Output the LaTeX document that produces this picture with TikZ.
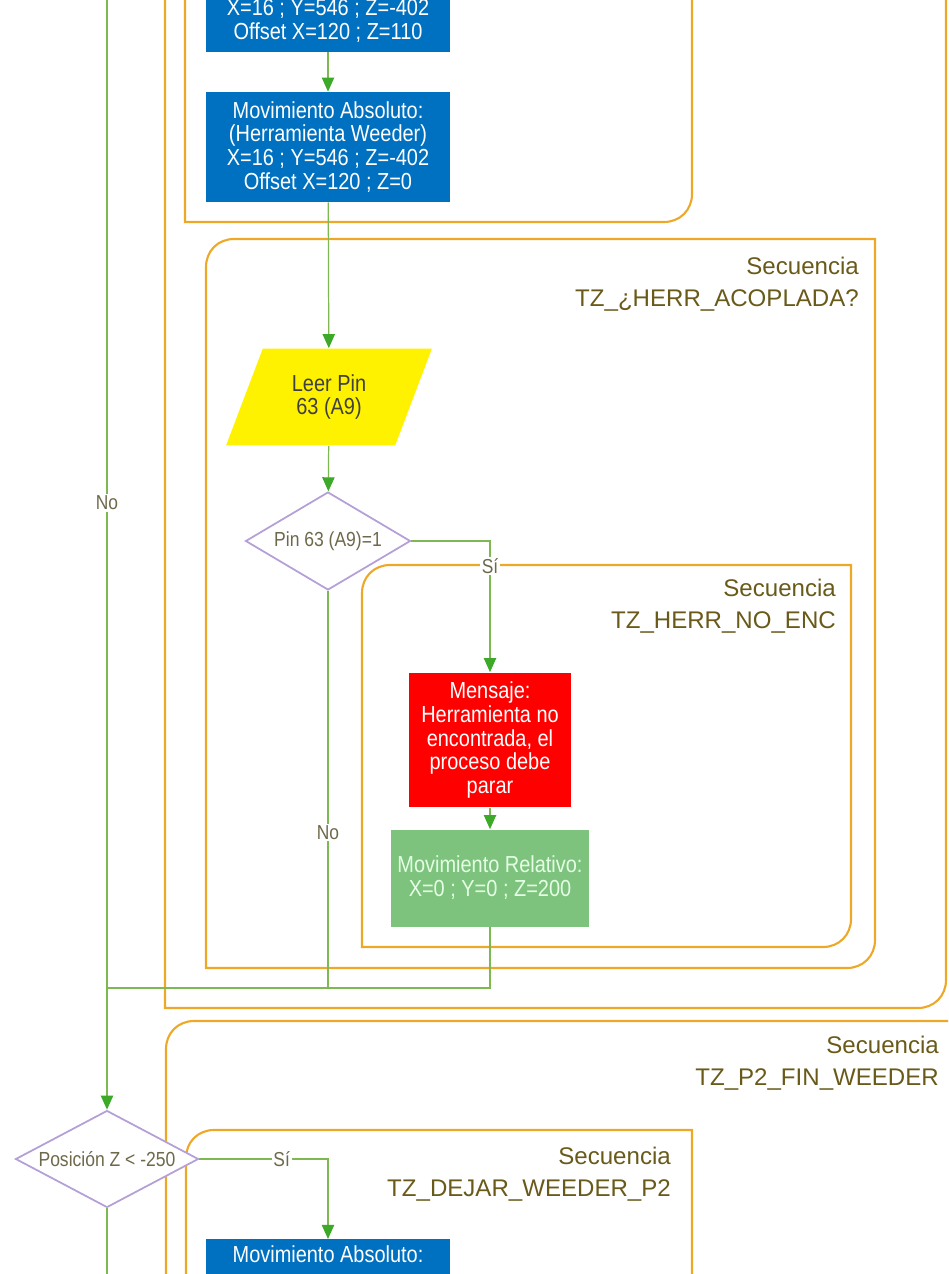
\documentclass[tikz,border=0pt]{standalone}
\usepackage{fontspec}
\setmainfont{Liberation Sans}
\newfontfamily\narrowfont[FakeStretch=0.86]{Liberation Sans}
\usetikzlibrary{shapes.geometric,arrows.meta}

\definecolor{seqorange}{RGB}{238,168,40}
\definecolor{seqtext}{RGB}{105,90,25}
\definecolor{flowgreen}{RGB}{125,185,80}
\definecolor{tipgreen}{RGB}{60,170,40}
\definecolor{actblue}{RGB}{0,112,192}
\definecolor{msgred}{RGB}{255,0,0}
\definecolor{relgreen}{RGB}{125,195,125}
\definecolor{decpurple}{RGB}{180,160,215}
\definecolor{lbltext}{RGB}{110,105,75}

\begin{document}
\begin{tikzpicture}[
    x=0.02cm, y=-0.02cm,
    font=\narrowfont\fontsize{13.2}{13.6}\selectfont,
    act/.style={fill=actblue, text=white, align=center,
                minimum width=4.9cm, minimum height=2.2cm, inner sep=2pt},
    msg/.style={fill=msgred, text=white, align=center,
                minimum width=3.24cm, minimum height=2.7cm, inner sep=2pt},
    rel/.style={fill=relgreen, text=white!90!green, align=center,
                minimum width=3.96cm, minimum height=1.94cm, inner sep=2pt},
    io/.style={trapezium, trapezium left angle=65.6, trapezium right angle=114.4,
               trapezium stretches=true, fill=yellow, text=black!75, align=center,
               minimum width=4.12cm, minimum height=1.94cm, inner sep=0pt},
    dec/.style={diamond, aspect=1.7, draw=decpurple, line width=1pt, fill=white,
                text=lbltext, inner sep=0pt,
                font=\narrowfont\fontsize{11.6}{12}\selectfont},
    seq/.style={draw=seqorange, line width=1.2pt},
    seqlabel/.style={anchor=east, align=right, text=seqtext,
                     font=\normalfont\fontsize{13.7}{18}\selectfont},
    link/.style={draw=flowgreen, line width=0.7pt},
    flow/.style={link, -{Triangle[length=8pt, width=7pt, color=tipgreen]}},
    yesno/.style={fill=white, text=lbltext, inner sep=1pt,
                  font=\narrowfont\fontsize{11.5}{12}\selectfont}
  ]
    \useasboundingbox (0,0) rectangle (948,1274);
    \clip (0,0) rectangle (948,1274);

    %% --- Sequence frames ---
    \draw[seq] (165,-10) -- (165,1008) -- (918,1008)
      .. controls (934,1008) and (946,996) .. (946,980) -- (946,-10);
    \draw[seq] (185,-10) -- (185,222) -- (664,222)
      .. controls (680,222) and (692,210) .. (692,194) -- (692,-10);
    \draw[seq] (206,968) -- (206,267) .. controls (206,251) and (218,239) .. (234,239)
      -- (875,239) -- (875,940) .. controls (875,956) and (863,968) .. (847,968)
      -- cycle;
    \draw[seq] (362,947) -- (362,593) .. controls (362,577) and (374,565) .. (390,565)
      -- (851,565) -- (851,919) .. controls (851,935) and (839,947) .. (823,947)
      -- cycle;
    \draw[seq] (166,1290) -- (166,1049) .. controls (166,1033) and (178,1021) .. (194,1021)
      -- (960,1021);
    \draw[seq] (186,1290) -- (186,1158) .. controls (186,1142) and (198,1130) .. (214,1130)
      -- (692,1130) -- (692,1290);

    \node[seqlabel] (acopl) at (865,284) {Secuencia\\TZ\_¿HERR\_ACOPLADA?};
    \node[seqlabel] (noenc) at (842,606) {Secuencia\\TZ\_HERR\_NO\_ENC};
    \node[seqlabel] (finp2) at (945,1063) {Secuencia\\TZ\_P2\_FIN\_WEEDER};
    \node[seqlabel] (dejar) at (677,1174) {Secuencia\\TZ\_DEJAR\_WEEDER\_P2};

    %% --- Steps ---
    \node[act] (absa) at (328,-3) {Movimiento Absoluto:\\(Herramienta Weeder)\\
      X=16 ; Y=546 ; Z=-402\\Offset X=120 ; Z=110};
    \node[act] (absb) at (328,147) {Movimiento Absoluto:\\(Herramienta Weeder)\\
      X=16 ; Y=546 ; Z=-402\\Offset X=120 ; Z=0};
    \node[io] (leer) at (329,397) {Leer Pin\\63 (A9)};
    \node[dec, minimum width=3.3cm, minimum height=1.96cm] (pin) at (328,541)
      {Pin 63 (A9)=1};
    \node[msg] (mensaje) at (490,740) {Mensaje:\\Herramienta no\\
      encontrada, el\\proceso debe\\parar};
    \node[rel] (relz) at (490,878) {Movimiento Relativo:\\X=0 ; Y=0 ; Z=200};
    \node[dec, minimum width=3.66cm, minimum height=1.94cm] (posz) at (107,1159)
      {Posición Z < -250};
    \node[act, anchor=north, minimum height=0pt, text height=9pt,
          text depth=1.6cm, inner ysep=4pt] (absc) at (328,1239)
      {Movimiento Absoluto:};

    %% --- Connectors ---
    \coordinate (topin) at (107,-10);
    \coordinate (merge) at (107,988);
    \coordinate (botout) at (107,1290);

    \draw[flow] (absa) -- (absb);
    \draw[flow] (absb) -- (leer);
    \draw[flow] (leer) -- (pin);
    \draw[flow] (pin.east) -| node[yesno, pos=0.595] {Sí} (mensaje.north);
    \draw[flow] (mensaje) -- (relz);
    \draw[link] (relz.south) |- (merge);
    \draw[link] (pin.south) |- node[yesno, pos=0.304] {No} (merge);
    \draw[link] (topin) -- node[yesno, pos=0.514] {No} (merge);
    \draw[flow, line width=1pt] (merge) -- (posz.north);
    \draw[flow] (posz.east) -| node[yesno, pos=0.32] {Sí} (absc.north);
    \draw[link] (posz.south) -- (botout);
  \end{tikzpicture}
\end{document}
